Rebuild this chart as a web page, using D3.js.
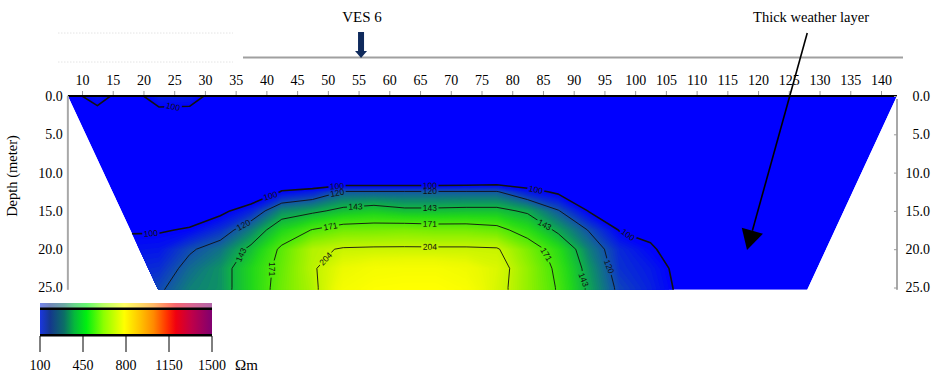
<!DOCTYPE html>
<html>
<head>
<meta charset="utf-8">
<script src="https://cdn.jsdelivr.net/npm/d3@7"></script>
<style>
  html, body { margin: 0; padding: 0; background: #fff; }
  svg { display: block; }
</style>
</head>
<body>
<svg id="chart" width="935" height="376"></svg>
<script>
// ---- data -------------------------------------------------------------
// electrode stations along the profile (m)
const stations = [7.5, 12.5, 17.5, 22.5, 27.5, 32.5, 37.5, 42.5, 47.5, 52.5, 57.5, 62.5, 67.5, 72.5,
                  77.5, 82.5, 87.5, 92.5, 97.5, 102.5, 107.5, 112.5, 117.5, 122.5, 127.5, 132.5, 137.5, 142.5];
// depth rows of the inverted section (m)
const depths = [0, 2.5, 5, 10, 11.5, 12.5, 15, 17.5, 20, 22.5, 25, 27.5];
// resistivity (ohm-m): one row per depth, one value per station
const resistivity = [
  [ 94,106, 92,108,107, 92, 93, 92, 92, 93, 93, 93, 93, 93, 93, 93, 93, 93, 93, 93, 92, 92, 92, 91, 91, 91, 90, 90],
  [ 93, 94, 93, 94, 94, 93, 92, 91, 91, 92, 92, 92, 92, 92, 92, 92, 92, 92, 92, 92, 91, 91, 91, 91, 90, 90, 90, 89],
  [ 91, 91, 91, 91, 91, 91, 90, 90, 90, 90, 90, 90, 90, 90, 90, 90, 90, 90, 90, 90, 90, 90, 89, 89, 89, 89, 89, 88],
  [ 89, 89, 89, 89, 89, 89, 88, 88, 88, 88, 88, 88, 88, 88, 88, 88, 88, 88, 88, 88, 88, 88, 88, 88, 88, 88, 87, 87],
  [ 89, 89, 89, 89, 89, 89, 86, 93, 90, 95, 95, 95, 95, 96, 98, 93, 90, 89, 88, 88, 88, 88, 88, 87, 87, 87, 87, 87],
  [ 90, 90, 90, 90, 90, 90, 84,101,107,121,121,121,121,121,121,106, 97, 92, 90, 90, 89, 88, 88, 88, 88, 87, 87, 87],
  [ 93, 93, 94, 94, 94, 96,109,133,139,148,152,147,147,148,148,140,121, 99, 94, 94, 92, 90, 90, 89, 89, 89, 88, 88],
  [ 97, 98, 99, 99,101,112,130,156,172,181,182,184,182,182,178,161,139,119, 99, 98, 94, 92, 91, 91, 90, 90, 89, 89],
  [103,104,104,105,118,127,147,175,199,206,207,207,207,207,206,184,160,130,110,101, 96, 93, 92, 92, 91, 91, 90, 90],
  [106,108,109,111,125,135,156,178,201,222,230,232,232,226,214,190,166,136,112,106, 96, 93, 93, 92, 92, 91, 91, 90],
  [108,110,113,117,130,135,156,180,198,230,238,240,240,234,212,190,169,139,116,108, 97, 94, 93, 93, 92, 92, 91, 91],
  [109,111,115,122,134,136,157,181,197,234,241,243,243,237,212,191,170,141,118,109, 98, 94, 94, 93, 93, 92, 92, 91]
];
// ground covered by the section: [distance (m), depth (m)]
const coverage = [[7.7, 0], [142.6, 0], [128.0, 25.3], [22.4, 25.3]];
const contourLevels = [100, 120, 143, 171, 204];
const distanceTicks = [10, 15, 20, 25, 30, 35, 40, 45, 50, 55, 60, 65, 70, 75, 80, 85, 90, 95,
                       100, 105, 110, 115, 120, 125, 130, 135, 140];
const depthTicks = [0, 5, 10, 15, 20, 25];
const legendTicks = [100, 450, 800, 1150, 1500];
const vesStation = 55.4;
const weatheredLayerPoint = [118.2, 20.1];

// contour label spots: [level, distance (m), depth (m)]
const labelSpots = [
  [100, 21.2, 18.0], [100, 40.6, 12.9], [100, 51.5, 11.8], [100, 66.6, 11.8], [100, 83.8, 12.4],
  [100, 98.8, 18.2], [100, 24.8, 1.0],
  [120, 36.3, 16.9], [120, 51.5, 12.6], [120, 66.6, 12.6], [120, 95.6, 22.3],
  [143, 35.6, 20.6], [143, 54.5, 14.3], [143, 66.6, 14.6], [143, 85.2, 16.9], [143, 91.5, 24.0],
  [171, 41.0, 22.6], [171, 50.4, 16.9], [171, 66.6, 16.7], [171, 85.8, 20.6],
  [204, 49.3, 21.0], [204, 66.6, 19.7]
];

// ---- styles -----------------------------------------------------------
const sectionStops = [
  [100, "#0000ff"], [112, "#0a30d0"], [122, "#135ca0"], [133, "#0e8a6c"], [143, "#10b444"],
  [157, "#22d81a"], [171, "#4ce80a"], [188, "#8cf000"], [204, "#c4f400"], [222, "#ecfa00"], [240, "#ffff00"]
];
const legendStops = [
  [0, "#1a36e0"], [0.06, "#14388c"], [0.14, "#0c6e66"], [0.2, "#05b83c"], [0.27, "#00f010"],
  [0.37, "#8cff00"], [0.49, "#ffff00"], [0.58, "#ffc400"], [0.66, "#ff8a00"], [0.74, "#ff3000"],
  [0.79, "#f00010"], [0.88, "#c00048"], [1, "#800070"]
];
const serif = '"Liberation Serif", "DejaVu Serif", serif';

// ---- scales -----------------------------------------------------------
const x = d3.scaleLinear().domain([10, 140]).range([82, 881]);
const y = d3.scaleLinear().domain([0, 25]).range([96, 287.5]);
const color = d3.scaleLinear()
  .domain(sectionStops.map(d => d[0]))
  .range(sectionStops.map(d => d[1]))
  .interpolate(d3.interpolateRgb)
  .clamp(true);

const svg = d3.select("#chart");
const defs = svg.append("defs");

// grid coordinates (value i sits at i + 0.5) -> metres -> pixels
const step = stations[1] - stations[0];
const colToDist = c => stations[0] + (c - 0.5) * step;
const rowToDepth = d3.scaleLinear().domain(depths.map((_, i) => i + 0.5)).range(depths);
const toPx = (c, r) => [x(colToDist(c)), y(rowToDepth(r))];
const path = d3.geoPath(d3.geoTransform({
  point(c, r) { const p = toPx(c, r); this.stream.point(p[0], p[1]); }
}));

const nx = stations.length, ny = depths.length;
const values = resistivity.flat();

// ---- section ----------------------------------------------------------
const coveragePx = coverage.map(([m, d]) => [x(m), y(d)]);
defs.append("clipPath").attr("id", "coverage")
  .append("path").attr("d", d3.line()(coveragePx) + "Z");

const section = svg.append("g").attr("clip-path", "url(#coverage)");
section.append("path")
  .attr("d", d3.line()(coveragePx) + "Z")
  .attr("fill", color(100));

const bandStep = 1.5;
const bandLevels = d3.range(100, 250, bandStep);
const bands = d3.contours().size([nx, ny]).thresholds(bandLevels)(values);
section.append("g")
  .selectAll("path")
  .data(bands)
  .join("path")
  .attr("d", path)
  .attr("fill-rule", "evenodd")
  .attr("fill", d => color(d.value + bandStep / 2));

// contour lines, broken where the labels sit
const lines = d3.contours().size([nx, ny]).thresholds(contourLevels)(values);
const mask = defs.append("mask").attr("id", "label-gaps")
  .attr("maskUnits", "userSpaceOnUse")
  .attr("x", 0).attr("y", 0).attr("width", 935).attr("height", 376);
mask.append("rect").attr("width", 935).attr("height", 376).attr("fill", "#fff");

section.append("g")
  .attr("mask", "url(#label-gaps)")
  .selectAll("path")
  .data(lines)
  .join("path")
  .attr("d", path)
  .attr("fill", "none")
  .attr("stroke", "#111")
  .attr("stroke-width", d => d.value === 100 ? 1.6 : 0.9)
  .attr("stroke-linejoin", "round");

// find the point of a contour closest to a spot, with the local direction
function spotOnContour(geom, px, py) {
  let best = null;
  geom.coordinates.forEach(poly => poly.forEach(ring => {
    const pts = ring.map(([c, r]) => toPx(c, r));
    for (let i = 1; i < pts.length; i++) {
      const [ax, ay] = pts[i - 1], [bx, by] = pts[i];
      const dx = bx - ax, dy = by - ay, l2 = dx * dx + dy * dy;
      if (!l2) continue;
      const t = Math.max(0, Math.min(1, ((px - ax) * dx + (py - ay) * dy) / l2));
      const qx = ax + t * dx, qy = ay + t * dy;
      const dist = (qx - px) ** 2 + (qy - py) ** 2;
      if (!best || dist < best.dist) best = { dist, x: qx, y: qy, pts, i };
    }
  }));
  const n = best.pts.length;
  const a = best.pts[Math.max(0, best.i - 3)];
  const b = best.pts[Math.min(n - 1, best.i + 2)];
  let ang = Math.atan2(b[1] - a[1], b[0] - a[0]) * 180 / Math.PI;
  if (ang > 90) ang -= 180;
  if (ang < -90) ang += 180;
  return { x: best.x, y: best.y, ang };
}

const labelLayer = section.append("g")
  .attr("font-family", '"Liberation Sans", Arial, sans-serif')
  .attr("font-size", 8.5)
  .attr("fill", "#111");

labelSpots.forEach(([level, m, d]) => {
  const geom = lines.find(g => g.value === level);
  const s = spotOnContour(geom, x(m), y(d));
  const t = labelLayer.append("text")
    .attr("transform", `translate(${s.x},${s.y}) rotate(${s.ang})`)
    .attr("text-anchor", "middle")
    .attr("dy", "0.35em")
    .text(level);
  const w = t.node().getComputedTextLength() + 3;
  mask.append("rect")
    .attr("x", -w / 2).attr("y", -4.5).attr("width", w).attr("height", 9)
    .attr("transform", `translate(${s.x},${s.y}) rotate(${s.ang})`)
    .attr("fill", "#000");
});

// ---- axes -------------------------------------------------------------
const topAxis = svg.append("g")
  .attr("transform", `translate(0,${y(0)})`)
  .call(d3.axisTop(x).tickValues(distanceTicks).tickSize(5).tickPadding(6).tickSizeOuter(0));
topAxis.select(".domain").remove();
topAxis.selectAll(".tick line").attr("stroke", "#9a9a9a");
topAxis.selectAll(".tick text").attr("font-family", serif).attr("font-size", 14).attr("fill", "#000");

// ground surface
svg.append("line")
  .attr("x1", x(coverage[0][0])).attr("x2", x(coverage[1][0]))
  .attr("y1", y(0)).attr("y2", y(0))
  .attr("stroke", "#000").attr("stroke-width", 2);

const bottomPx = y(coverage[2][1]);
const leftX = x(coverage[0][0]), rightX = x(coverage[1][0]);

svg.append("line").attr("x1", leftX).attr("x2", leftX).attr("y1", y(0)).attr("y2", bottomPx)
  .attr("stroke", "#a8a8a8").attr("stroke-width", 2);
svg.append("line").attr("x1", rightX).attr("x2", rightX).attr("y1", y(0) + 3).attr("y2", bottomPx)
  .attr("stroke", "#a8a8a8").attr("stroke-width", 2);

const leftAxis = svg.append("g")
  .attr("transform", `translate(${leftX},0)`)
  .call(d3.axisLeft(y).tickValues(depthTicks).tickFormat(d3.format(".1f")).tickSize(0).tickPadding(5));
leftAxis.select(".domain").remove();
leftAxis.selectAll(".tick text").attr("font-family", serif).attr("font-size", 14).attr("fill", "#000");

const rightAxis = svg.append("g")
  .attr("transform", `translate(${rightX},0)`)
  .call(d3.axisRight(y).tickValues(depthTicks).tickFormat(d3.format(".1f")).tickSize(-3).tickPadding(0));
rightAxis.select(".domain").remove();
rightAxis.selectAll(".tick line").attr("stroke", "#9a9a9a");
rightAxis.selectAll(".tick text")
  .attr("font-family", serif).attr("font-size", 14).attr("fill", "#000")
  .attr("text-anchor", "end").attr("x", 930 - rightX);

svg.append("text")
  .attr("transform", "translate(17,176) rotate(-90)")
  .attr("text-anchor", "middle")
  .attr("font-family", serif).attr("font-size", 14.5)
  .text("Depth (meter)");

// ---- profile line and annotations --------------------------------------
svg.append("line").attr("x1", 243).attr("x2", 903).attr("y1", 57.5).attr("y2", 57.5)
  .attr("stroke", "#a0a0a0").attr("stroke-width", 2);
[33, 62].forEach(yy => svg.append("line")
  .attr("x1", 58).attr("x2", 233).attr("y1", yy).attr("y2", yy)
  .attr("stroke", "#e4e4e4").attr("stroke-width", 1).attr("stroke-dasharray", "1.5,1.5"));

const vx = x(vesStation);
svg.append("text").attr("x", vx + 1).attr("y", 22)
  .attr("text-anchor", "middle").attr("font-family", serif).attr("font-size", 15)
  .text("VES 6");
svg.append("rect").attr("x", vx - 3).attr("y", 32).attr("width", 6).attr("height", 20).attr("fill", "#0f2a5c");
svg.append("path")
  .attr("d", `M${vx - 6},51 L${vx + 6},51 L${vx},58 Z`)
  .attr("fill", "#0f2a5c");

svg.append("text").attr("x", 811).attr("y", 22)
  .attr("text-anchor", "middle").attr("font-family", serif).attr("font-size", 14.5)
  .text("Thick weather layer");

const tail = [x(128.0), 33];
const tip = [x(weatheredLayerPoint[0]), y(weatheredLayerPoint[1])];
const vxA = tip[0] - tail[0], vyA = tip[1] - tail[1];
const len = Math.hypot(vxA, vyA), ux = vxA / len, uy = vyA / len;
const headLen = 20, headHalf = 11;
const base = [tip[0] - ux * headLen, tip[1] - uy * headLen];
svg.append("line")
  .attr("x1", tail[0]).attr("y1", tail[1]).attr("x2", base[0]).attr("y2", base[1])
  .attr("stroke", "#000").attr("stroke-width", 1.6);
svg.append("path")
  .attr("d", `M${tip[0]},${tip[1]} L${base[0] - uy * headHalf},${base[1] + ux * headHalf} L${base[0] + uy * headHalf},${base[1] - ux * headHalf} Z`)
  .attr("fill", "#000");

// ---- colour legend ----------------------------------------------------
const legend = d3.scaleLinear().domain([100, 1500]).range([40, 212]);
const grad = defs.append("linearGradient").attr("id", "legend-grad")
  .attr("x1", "0%").attr("x2", "100%").attr("y1", "0%").attr("y2", "0%");
grad.selectAll("stop").data(legendStops).join("stop")
  .attr("offset", d => d[0]).attr("stop-color", d => d[1]);

const lx0 = legend.range()[0], lw = legend.range()[1] - legend.range()[0];
svg.append("rect").attr("x", lx0).attr("y", 303).attr("width", lw).attr("height", 5)
  .attr("fill", "url(#legend-grad)").attr("opacity", 0.6);
svg.append("rect").attr("x", lx0).attr("y", 307.5).attr("width", lw).attr("height", 2.5).attr("fill", "#000");
svg.append("rect").attr("x", lx0).attr("y", 310).attr("width", lw).attr("height", 24)
  .attr("fill", "url(#legend-grad)");
svg.append("rect").attr("x", lx0).attr("y", 334).attr("width", lw).attr("height", 2.5).attr("fill", "#000");

const lg = svg.append("g").attr("font-family", serif).attr("font-size", 14);
lg.selectAll("line").data(legendTicks).join("line")
  .attr("x1", d => legend(d)).attr("x2", d => legend(d))
  .attr("y1", 336).attr("y2", 352)
  .attr("stroke", "#000").attr("stroke-width", 1);
lg.selectAll("text").data(legendTicks).join("text")
  .attr("x", d => legend(d)).attr("y", 370)
  .attr("text-anchor", "middle")
  .text(d => d);
svg.append("text").attr("x", 235).attr("y", 370)
  .attr("font-family", serif).attr("font-size", 15)
  .text("\u03A9m");
</script>
</body>
</html>
